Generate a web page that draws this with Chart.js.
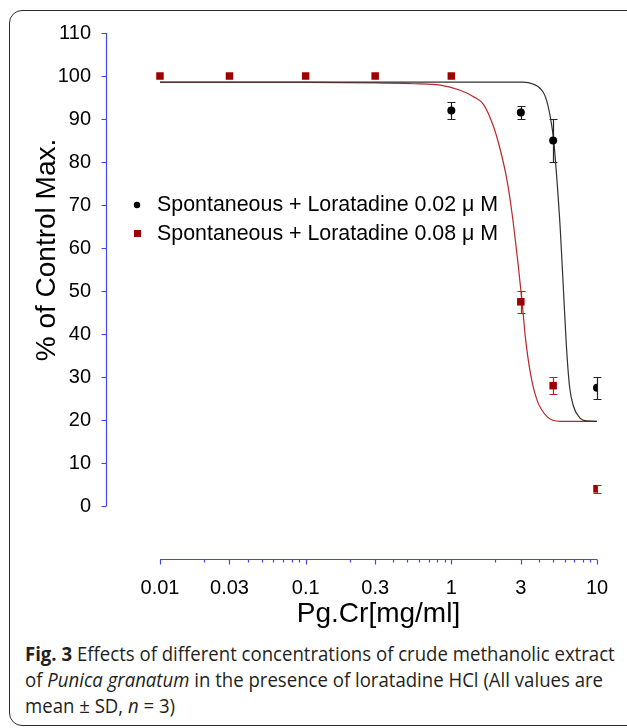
<!DOCTYPE html>
<html>
<head>
<meta charset="utf-8">
<script src="https://cdn.jsdelivr.net/npm/chart.js@4.4.1/dist/chart.umd.min.js"></script>
<style>
html, body { margin: 0; padding: 0; background: #fff; }
#wrap { position: relative; width: 627px; height: 728px; overflow: hidden; }
#frame { position: absolute; left: 9px; top: 10px; width: 660px; height: 716px; border: 1.5px solid #2b2b2b; border-radius: 13px; box-sizing: border-box; }
#chart { position: absolute; left: 0; top: 0; }
#caption { position: absolute; left: 25px; top: 641px; font-family: "Open Sans", sans-serif; font-size: 19.5px; line-height: 26px; color: #231f20; }
#caption div { white-space: nowrap; transform-origin: 0 0; }
</style>
</head>
<body>
<div id="wrap">
  <div id="frame"></div>
  <canvas id="chart" width="627" height="640"></canvas>
  <div id="caption">
    <div><b>Fig. 3</b> Effects of different concentrations of crude methanolic extract</div>
    <div>of <i>Punica granatum</i> in the presence of loratadine HCl (All values are</div>
    <div>mean ± SD, <i>n</i> = 3)</div>
  </div>
</div>
<script>
// measured points (mean and SD)
const lora002Conc = [1, 3, 5, 10];
const lora002Mean = [92, 91.5, 85, 27.5];
const lora002SD = [2, 1.5, 5, 2.5];

const lora008Conc = [0.01, 0.03, 0.1, 0.3, 1, 3, 5, 10];
const lora008Mean = [100, 100, 100, 100, 100, 47.5, 28, 4];
const lora008SD = [0, 0, 0, 0, 0, 2.5, 2, 1];

// fitted curves
const fit002X = [0.01, 0.1, 1, 3.1, 3.67, 4.08, 4.42, 4.78, 5.04, 5.31, 5.6, 5.9, 6.15, 6.48, 6.91, 7.68, 8.54, 10];
const fit002Y = [98.6, 98.6, 98.6, 98.6, 98.1, 97.1, 95.2, 90.5, 85.1, 75.8, 64.2, 49.5, 37.8, 27.8, 23.1, 20.4, 19.8, 19.7];
const fit008X = [0.01, 0.1, 0.3, 0.55, 0.84, 1.15, 1.42, 1.67, 1.95, 2.17, 2.41, 2.61, 2.87, 3.06, 3.22, 3.49, 3.87, 4.54, 5.6, 10];
const fit008Y = [98.5, 98.5, 98.4, 98.2, 97.9, 96.7, 95.2, 93.3, 88.2, 82.8, 75.8, 68.1, 56.4, 47.5, 39.4, 30.9, 24.7, 20.8, 19.7, 19.7];

// axes
const xMajorTicks = [0.01, 0.03, 0.1, 0.3, 1, 3, 10];
const xTickLabels = ['0.01', '0.03', '0.1', '0.3', '1', '3', '10'];
const xMinorTicks = [0.02, 0.04, 0.05, 0.06, 0.07, 0.08, 0.09, 0.2, 0.4, 0.5, 0.6, 0.7, 0.8, 0.9, 2, 4, 5, 6, 7, 8, 9];
const yTicks = [0, 10, 20, 30, 40, 50, 60, 70, 80, 90, 100, 110];

const seriesNames = ['Spontaneous + Loratadine 0.02 \u03bc M', 'Spontaneous + Loratadine 0.08 \u03bc M'];
const xTitle = 'Pg.Cr[mg/ml]';
const yTitle = '% of Control Max.';

const axisBlue = '#4646e8';
const black = '#000000';
const darkRed = '#9e0000';
const curveRed = '#b8262a';
const curveBlack = '#303030';
const font = '"Liberation Sans", Arial, sans-serif';

// axes, titles, legend and error bars, all placed through the chart scales
const extras = {
    id: 'extras',
    beforeDatasetsDraw(chart) {
        let ctx = chart.ctx;
        let xs = chart.scales.x, ys = chart.scales.y;
        let area = chart.chartArea;
        ctx.save();
        ctx.strokeStyle = axisBlue;
        ctx.lineWidth = 1.2;
        // y axis
        let yx = Math.round(area.left) + 0.5;
        ctx.beginPath();
        ctx.moveTo(yx, ys.getPixelForValue(0));
        ctx.lineTo(yx, ys.getPixelForValue(110));
        yTicks.forEach(v => {
            let py = Math.round(ys.getPixelForValue(v)) + 0.5;
            ctx.moveTo(yx, py);
            ctx.lineTo(yx - 5, py);
        });
        ctx.stroke();
        // x axis
        let xy = Math.round(area.bottom) + 0.5;
        ctx.beginPath();
        ctx.moveTo(xs.getPixelForValue(0.01), xy);
        ctx.lineTo(xs.getPixelForValue(10), xy);
        xMajorTicks.forEach(v => {
            let px = Math.round(xs.getPixelForValue(v)) + 0.5;
            ctx.moveTo(px, xy);
            ctx.lineTo(px, xy + 5);
        });
        xMinorTicks.forEach(v => {
            let px = Math.round(xs.getPixelForValue(v)) + 0.5;
            ctx.moveTo(px, xy);
            ctx.lineTo(px, xy + 3);
        });
        ctx.stroke();

        // titles
        ctx.fillStyle = black;
        ctx.font = '28px ' + font;
        ctx.textAlign = 'center';
        ctx.textBaseline = 'alphabetic';
        let cx = (xs.getPixelForValue(0.01) + xs.getPixelForValue(10)) / 2;
        ctx.fillText(xTitle, cx, 622);
        ctx.save();
        ctx.translate(55, 250);
        ctx.rotate(-Math.PI / 2);
        ctx.fillText(yTitle, 0, 0);
        ctx.restore();

        // legend
        ctx.font = '21.4px ' + font;
        ctx.textAlign = 'left';
        ctx.textBaseline = 'middle';
        ctx.fillStyle = black;
        ctx.beginPath();
        ctx.arc(137, 205, 3.2, 0, Math.PI * 2);
        ctx.fill();
        ctx.fillText(seriesNames[0], 157, 205);
        ctx.fillStyle = darkRed;
        ctx.fillRect(134, 230, 7, 7);
        ctx.fillStyle = black;
        ctx.fillText(seriesNames[1], 157, 234);

        // error bars, under the markers
        ctx.lineWidth = 1.2;
        [[lora002Conc, lora002Mean, lora002SD, '#222'], [lora008Conc, lora008Mean, lora008SD, '#b02020']].forEach(s => {
            let [conc, mean, sd, col] = s;
            ctx.strokeStyle = col;
            ctx.beginPath();
            conc.forEach((c, i) => {
                if (!sd[i]) return;
                let px = Math.round(xs.getPixelForValue(c)) + 0.5;
                let top = Math.round(ys.getPixelForValue(mean[i] + sd[i])) + 0.5;
                let bot = Math.round(ys.getPixelForValue(mean[i] - sd[i])) + 0.5;
                ctx.moveTo(px, top); ctx.lineTo(px, bot);
                ctx.moveTo(px - 4, top); ctx.lineTo(px + 4, top);
                ctx.moveTo(px - 4, bot); ctx.lineTo(px + 4, bot);
            });
            ctx.stroke();
        });
        ctx.restore();
    }
};

let ctx = document.getElementById('chart').getContext('2d');
new Chart(ctx, {
    type: 'scatter',
    data: {
        datasets: [
            {
                label: seriesNames[0],
                data: lora002Conc.map((x, i) => ({ x: x, y: lora002Mean[i] })),
                pointStyle: 'circle',
                pointRadius: 4,
                pointBorderWidth: 0,
                backgroundColor: black,
                borderColor: black,
                order: 1
            },
            {
                label: seriesNames[1],
                data: lora008Conc.map((x, i) => ({ x: x, y: lora008Mean[i] })),
                pointStyle: 'rect',
                pointRadius: 5.3,
                pointBorderWidth: 0,
                backgroundColor: darkRed,
                borderColor: darkRed,
                order: 1
            },
            {
                type: 'line',
                label: 'fit 0.02',
                data: fit002X.map((x, i) => ({ x: x, y: fit002Y[i] })),
                borderColor: curveBlack,
                borderWidth: 1.2,
                pointRadius: 0,
                fill: false,
                cubicInterpolationMode: 'monotone',
                order: 2
            },
            {
                type: 'line',
                label: 'fit 0.08',
                data: fit008X.map((x, i) => ({ x: x, y: fit008Y[i] })),
                borderColor: curveRed,
                borderWidth: 1.2,
                pointRadius: 0,
                fill: false,
                cubicInterpolationMode: 'monotone',
                order: 2
            }
        ]
    },
    options: {
        responsive: false,
        animation: false,
        layout: { padding: { left: 0, top: 33, right: 30, bottom: 0 } },
        scales: {
            x: {
                type: 'logarithmic',
                min: 0.00426,
                max: 10,
                afterBuildTicks: function(scale) {
                    scale.ticks = xMajorTicks.map(v => ({ value: v }));
                },
                afterFit: function(scale) {
                    scale.height = 640 - 559;
                },
                ticks: {
                    autoSkip: false,
                    maxRotation: 0,
                    padding: 9,
                    color: black,
                    font: { family: font, size: 20 },
                    callback: function(value, index) {
                        return xTickLabels[index];
                    }
                },
                grid: { display: false },
                border: { display: false }
            },
            y: {
                min: -12.3,
                max: 110,
                afterBuildTicks: function(scale) {
                    scale.ticks = yTicks.map(v => ({ value: v }));
                },
                afterFit: function(scale) {
                    scale.width = 106;
                },
                ticks: {
                    padding: 7,
                    color: black,
                    font: { family: font, size: 20 }
                },
                grid: { display: false },
                border: { display: false }
            }
        },
        plugins: {
            legend: { display: false },
            tooltip: { enabled: false }
        }
    },
    plugins: [extras]
});

// squeeze caption lines to the width of the original
let lines = document.querySelectorAll('#caption div');
let k = 590 / lines[0].scrollWidth;
lines.forEach(l => { l.style.transform = 'scaleX(' + k + ')'; });
</script>
</body>
</html>
